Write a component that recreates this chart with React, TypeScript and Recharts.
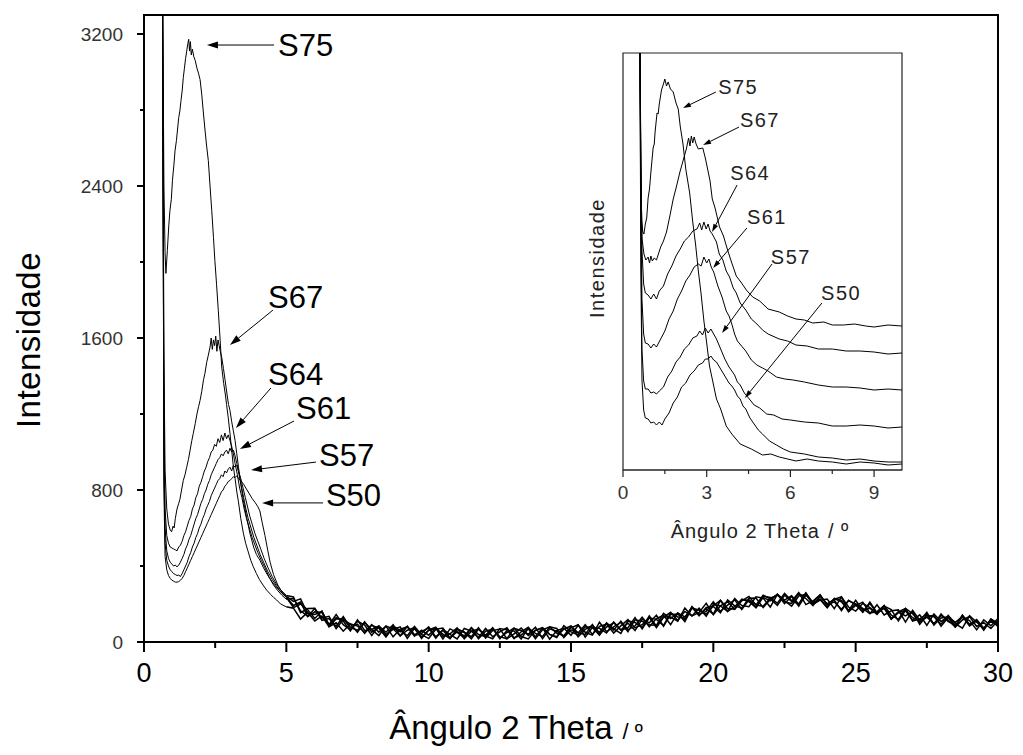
import React from 'react';
import { LineChart, Line, XAxis, YAxis, ReferenceLine, ReferenceDot, ReferenceArea } from 'recharts';

const FONT = '"Liberation Sans", Arial, Helvetica, sans-serif';

// ---------- MAIN CHART DATA (2θ in degrees, intensity) ----------
const S75_PEAK: number[][] = [
  [0.65, 3500], [0.7, 2400], [0.74, 2050], [0.77, 1940], [0.82, 2060], [0.87, 2190], [0.91, 2270], [0.96, 2330],
  [1.0, 2430], [1.05, 2510], [1.09, 2585], [1.14, 2640], [1.18, 2700], [1.22, 2760], [1.26, 2795], [1.3, 2850],
  [1.34, 2900], [1.38, 2970], [1.42, 3020], [1.46, 3070], [1.5, 3110], [1.54, 3150], [1.57, 3172], [1.6, 3110],
  [1.63, 3160], [1.66, 3090], [1.7, 3120], [1.75, 3080], [1.8, 3060], [1.86, 3020], [1.92, 2990], [1.97, 2960],
  [2.03, 2880], [2.08, 2795], [2.14, 2700], [2.2, 2610], [2.26, 2533], [2.32, 2400], [2.38, 2270], [2.44, 2130],
  [2.49, 2007], [2.55, 1880], [2.61, 1745], [2.67, 1600], [2.73, 1447], [2.8, 1360], [2.86, 1300], [2.9, 1250],
  [2.96, 1180], [3.02, 1098], [3.08, 1010], [3.14, 921], [3.2, 860], [3.26, 790], [3.31, 746], [3.4, 650],
  [3.49, 573], [3.57, 520], [3.65, 480], [3.75, 430], [3.84, 396], [3.95, 360], [4.05, 330], [4.18, 300],
  [4.31, 273], [4.45, 250], [4.55, 235], [4.66, 221], [4.8, 200], [5.0, 185],
];
const S67_PEAK: number[][] = [
  [0.65, 3500], [0.7, 1500], [0.74, 900], [0.8, 700], [0.86, 620], [0.92, 590], [0.97, 580], [1.02, 610],
  [1.06, 600], [1.1, 650], [1.16, 700], [1.22, 730], [1.26, 750], [1.32, 800], [1.38, 850], [1.44, 880],
  [1.5, 920], [1.56, 960], [1.62, 1010], [1.68, 1060], [1.73, 1097], [1.8, 1150], [1.86, 1200], [1.92, 1240],
  [1.97, 1272], [2.03, 1320], [2.09, 1380], [2.14, 1413], [2.2, 1470], [2.26, 1510], [2.32, 1552], [2.36, 1600],
  [2.4, 1540], [2.44, 1590], [2.48, 1560], [2.52, 1610], [2.56, 1530], [2.6, 1590], [2.64, 1560], [2.68, 1530],
  [2.73, 1499], [2.79, 1440], [2.85, 1377], [2.92, 1300], [2.97, 1250], [3.02, 1219], [3.08, 1160], [3.14, 1110],
  [3.2, 1061], [3.26, 990], [3.32, 920], [3.4, 830], [3.49, 746], [3.6, 660], [3.72, 573], [3.85, 500],
  [3.95, 460], [4.07, 431], [4.2, 390], [4.35, 350], [4.53, 310], [4.7, 280], [4.85, 255], [5.0, 235],
];
const S64_PEAK: number[][] = [
  [0.65, 3500], [0.7, 1200], [0.74, 700], [0.8, 560], [0.86, 520], [0.92, 500], [0.98, 495], [1.04, 490],
  [1.1, 485], [1.16, 480], [1.22, 500], [1.28, 510], [1.34, 530], [1.4, 560], [1.46, 580], [1.52, 610],
  [1.58, 640], [1.64, 660], [1.7, 700], [1.76, 720], [1.82, 760], [1.88, 780], [1.94, 820], [2.0, 840],
  [2.06, 870], [2.12, 900], [2.18, 920], [2.24, 950], [2.3, 970], [2.36, 1000], [2.42, 1010], [2.48, 1040],
  [2.54, 1030], [2.6, 1070], [2.66, 1050], [2.72, 1090], [2.78, 1060], [2.84, 1100], [2.9, 1070], [2.96, 1090],
  [3.02, 1060], [3.08, 1030], [3.14, 990], [3.2, 940], [3.28, 880], [3.36, 810], [3.44, 760], [3.52, 700],
  [3.6, 650], [3.7, 600], [3.8, 550], [3.9, 510], [4.0, 470], [4.12, 430], [4.25, 390], [4.4, 340],
  [4.55, 300], [4.7, 270], [4.85, 245], [5.0, 225],
];
const S61_PEAK: number[][] = [
  [0.65, 3500], [0.7, 1000], [0.74, 600], [0.8, 480], [0.86, 440], [0.92, 420], [0.98, 410], [1.04, 400],
  [1.1, 405], [1.16, 395], [1.22, 405], [1.28, 420], [1.34, 440], [1.4, 460], [1.46, 490], [1.52, 510],
  [1.58, 540], [1.64, 560], [1.7, 590], [1.76, 620], [1.82, 650], [1.88, 670], [1.94, 700], [2.0, 730],
  [2.06, 750], [2.12, 780], [2.18, 800], [2.24, 830], [2.3, 850], [2.36, 880], [2.42, 900], [2.48, 920],
  [2.54, 940], [2.6, 960], [2.66, 970], [2.72, 990], [2.78, 980], [2.84, 1000], [2.9, 1010], [2.96, 990],
  [3.02, 1020], [3.08, 1000], [3.14, 1010], [3.2, 980], [3.26, 940], [3.34, 880], [3.42, 820], [3.5, 760],
  [3.58, 700], [3.66, 650], [3.76, 600], [3.86, 550], [3.96, 510], [4.08, 460], [4.2, 420], [4.35, 370],
  [4.5, 330], [4.65, 295], [4.8, 265], [5.0, 235],
];
const S57_PEAK: number[][] = [
  [0.65, 3500], [0.7, 900], [0.74, 520], [0.8, 430], [0.86, 400], [0.92, 380], [0.98, 370], [1.04, 360],
  [1.1, 355], [1.16, 350], [1.22, 352], [1.28, 345], [1.34, 360], [1.4, 380], [1.46, 400], [1.52, 420],
  [1.58, 450], [1.64, 470], [1.7, 500], [1.76, 520], [1.82, 550], [1.88, 570], [1.94, 600], [2.0, 620],
  [2.06, 650], [2.12, 670], [2.18, 700], [2.24, 720], [2.3, 740], [2.36, 770], [2.42, 790], [2.48, 810],
  [2.54, 830], [2.6, 850], [2.66, 860], [2.72, 880], [2.78, 870], [2.84, 900], [2.9, 890], [2.96, 910],
  [3.02, 920], [3.08, 900], [3.14, 930], [3.2, 920], [3.26, 930], [3.32, 900], [3.4, 860], [3.48, 810],
  [3.56, 760], [3.64, 710], [3.72, 660], [3.8, 620], [3.9, 570], [4.0, 530], [4.1, 490], [4.22, 440],
  [4.36, 390], [4.5, 345], [4.65, 305], [4.8, 275], [5.0, 245],
];
const S50_PEAK: number[][] = [
  [0.65, 3500], [0.7, 800], [0.74, 450], [0.8, 380], [0.86, 350], [0.92, 335], [0.98, 325], [1.04, 320],
  [1.1, 315], [1.16, 315], [1.22, 318], [1.28, 325], [1.34, 335], [1.4, 350], [1.46, 370], [1.52, 390],
  [1.58, 410], [1.64, 430], [1.7, 450], [1.76, 470], [1.82, 490], [1.88, 510], [1.94, 530], [2.0, 550],
  [2.06, 570], [2.12, 590], [2.18, 610], [2.24, 630], [2.3, 650], [2.36, 670], [2.42, 690], [2.48, 710],
  [2.54, 730], [2.6, 750], [2.66, 770], [2.72, 790], [2.78, 800], [2.84, 820], [2.9, 830], [2.96, 845],
  [3.02, 850], [3.08, 860], [3.14, 870], [3.2, 865], [3.26, 875], [3.32, 860], [3.4, 850], [3.5, 830],
  [3.6, 805], [3.7, 780], [3.8, 755], [3.9, 735], [4.0, 712], [4.07, 690], [4.15, 630], [4.25, 560],
  [4.35, 480], [4.43, 420], [4.55, 355], [4.7, 300], [4.85, 262], [5.0, 240],
];

// background region (2θ = 5.25 ... 30, step 0.25)
const BG_X: number[] = [
  5.25, 5.5, 5.75, 6, 6.25, 6.5, 6.75, 7, 7.25, 7.5,
  7.75, 8, 8.25, 8.5, 8.75, 9, 9.25, 9.5, 9.75, 10,
  10.25, 10.5, 10.75, 11, 11.25, 11.5, 11.75, 12, 12.25, 12.5,
  12.75, 13, 13.25, 13.5, 13.75, 14, 14.25, 14.5, 14.75, 15,
  15.25, 15.5, 15.75, 16, 16.25, 16.5, 16.75, 17, 17.25, 17.5,
  17.75, 18, 18.25, 18.5, 18.75, 19, 19.25, 19.5, 19.75, 20,
  20.25, 20.5, 20.75, 21, 21.25, 21.5, 21.75, 22, 22.25, 22.5,
  22.75, 23, 23.25, 23.5, 23.75, 24, 24.25, 24.5, 24.75, 25,
  25.25, 25.5, 25.75, 26, 26.25, 26.5, 26.75, 27, 27.25, 27.5,
  27.75, 28, 28.25, 28.5, 28.75, 29, 29.25, 29.5, 29.75, 30,
];
const S75_BG: number[] = [
  178, 121, 157, 111, 137, 80, 101, 57, 96, 84,
  50, 92, 52, 84, 27, 68, 80, 35, 44, 79,
  27, 62, 18, 65, 53, 17, 68, 35, 75, 21,
  50, 74, 29, 16, 63, 75, 40, 24, 86, 53,
  37, 80, 76, 36, 97, 62, 110, 64, 85, 130,
  80, 123, 141, 91, 153, 132, 180, 142, 175, 147,
  219, 176, 172, 225, 219, 181, 235, 216, 251, 202,
  239, 188, 247, 209, 248, 194, 211, 172, 217, 199,
  156, 210, 153, 178, 121, 154, 166, 113, 143, 88,
  148, 108, 133, 79, 116, 134, 82, 102, 71, 113,
];
const S67_BG: number[] = [
  192, 210, 133, 159, 155, 91, 144, 91, 65, 109,
  89, 34, 84, 51, 91, 32, 62, 75, 19, 64,
  78, 30, 43, 74, 17, 57, 68, 32, 17, 71,
  64, 18, 54, 77, 27, 75, 40, 28, 69, 84,
  27, 66, 87, 50, 101, 69, 45, 111, 103, 76,
  137, 83, 133, 131, 110, 179, 137, 178, 136, 198,
  190, 161, 229, 192, 186, 238, 231, 184, 251, 220,
  243, 199, 258, 202, 223, 180, 229, 212, 166, 220,
  167, 178, 145, 189, 171, 111, 166, 128, 111, 156,
  90, 126, 133, 83, 141, 91, 114, 66, 121, 91,
];
const S64_BG: number[] = [
  229, 164, 135, 176, 126, 135, 70, 118, 94, 51,
  106, 52, 77, 30, 84, 61, 33, 82, 40, 18,
  67, 73, 22, 54, 32, 75, 17, 57, 68, 28,
  17, 72, 61, 41, 78, 18, 69, 57, 30, 84,
  48, 40, 92, 39, 79, 101, 63, 100, 60, 120,
  101, 141, 83, 145, 146, 118, 183, 146, 161, 212,
  161, 194, 222, 171, 222, 195, 246, 227, 193, 246,
  214, 260, 197, 216, 248, 194, 221, 165, 220, 195,
  159, 203, 153, 178, 121, 158, 177, 110, 122, 146,
  90, 147, 107, 90, 130, 113, 64, 116, 85, 124,
];
const S61_BG: number[] = [
  181, 200, 169, 124, 163, 82, 121, 122, 76, 62,
  104, 66, 34, 84, 70, 32, 82, 39, 55, 75,
  20, 66, 40, 16, 71, 57, 24, 71, 28, 53,
  75, 22, 36, 70, 17, 64, 80, 46, 33, 75,
  91, 26, 76, 72, 47, 105, 63, 75, 128, 69,
  127, 119, 87, 152, 131, 125, 187, 138, 182, 187,
  154, 222, 190, 178, 230, 231, 181, 224, 251, 210,
  203, 256, 229, 191, 241, 201, 225, 237, 163, 202,
  177, 149, 196, 142, 164, 169, 105, 167, 115, 131,
  97, 140, 115, 79, 141, 91, 118, 73, 110, 88,
];
const S57_BG: number[] = [
  237, 154, 176, 177, 114, 123, 83, 134, 76, 94,
  46, 88, 73, 26, 77, 53, 82, 31, 62, 36,
  72, 16, 69, 51, 21, 75, 39, 28, 71, 17,
  60, 58, 16, 73, 45, 28, 80, 71, 23, 64,
  48, 91, 40, 82, 94, 47, 85, 118, 74, 91,
  130, 76, 130, 156, 113, 161, 137, 156, 204, 144,
  190, 212, 172, 217, 240, 195, 188, 231, 247, 217,
  189, 242, 251, 198, 220, 226, 175, 237, 184, 163,
  203, 181, 149, 192, 124, 158, 137, 160, 93, 142,
  133, 93, 140, 97, 73, 138, 104, 73, 118, 81,
];
const S50_BG: number[] = [
  214, 227, 150, 145, 161, 90, 128, 110, 58, 116,
  61, 66, 84, 40, 66, 80, 19, 71, 26, 61,
  71, 41, 18, 70, 50, 28, 75, 21, 60, 68,
  17, 43, 74, 34, 60, 75, 15, 60, 73, 35,
  88, 51, 36, 104, 54, 80, 103, 54, 117, 109,
  91, 87, 151, 123, 153, 107, 180, 167, 146, 190,
  219, 161, 186, 225, 212, 181, 242, 234, 204, 256,
  218, 199, 258, 206, 227, 183, 229, 219, 159, 192,
  210, 152, 160, 192, 142, 118, 177, 149, 104, 131,
  141, 83, 129, 104, 134, 84, 111, 62, 121, 99,
];

const MAIN_X_TICKS = [0, 2.5, 5, 7.5, 10, 12.5, 15, 17.5, 20, 22.5, 25, 27.5, 30];
const MAIN_Y_TICKS = [0, 400, 800, 1200, 1600, 2000, 2400, 2800, 3200];

// label anchors and arrows (data coordinates)
const MAIN_LABELS = ['S75', 'S67', 'S64', 'S61', 'S57', 'S50'];
const MAIN_LABEL_POS: number[][] = [[4.71, 3142], [4.36, 1816], [4.36, 1411], [5.34, 1232], [6.15, 984], [6.39, 774]];
const MAIN_ARROWS: number[][] = [
  [4.57, 3142, 2.21, 3142], [4.53, 1747, 3.02, 1563], [4.46, 1337, 3.23, 1126],
  [5.27, 1163, 3.37, 1016], [6.04, 947, 3.76, 905], [6.29, 732, 4.15, 732],
];

// ---------- INSET DATA (2θ, offset intensity in arbitrary units) ----------
const IN_S75: number[][] = [
  [0.6, 450], [0.64, 300], [0.67, 250], [0.71, 238], [0.75, 236], [0.8, 246], [0.85, 252], [0.9, 272], [0.95, 281], [1.0, 298],
  [1.08, 322], [1.12, 326], [1.15, 338], [1.22, 357], [1.26, 356], [1.3, 366], [1.38, 380], [1.45, 386], [1.5, 391], [1.56, 384],
  [1.62, 388], [1.7, 381], [1.8, 378], [1.9, 367], [1.98, 361], [2.05, 344], [2.15, 326], [2.25, 301],
  [2.39, 277], [2.5, 248], [2.6, 226], [2.7, 199], [2.8, 176], [2.9, 149], [3.0, 127], [3.1, 104],
  [3.2, 91], [3.35, 71], [3.5, 61], [3.7, 44], [3.9, 36], [4.2, 26], [4.6, 21], [5.0, 15], [5.3, 16], [5.6, 13],
  [6.2, 9], [6.6, 11], [7.0, 9], [7.5, 8], [8.0, 6], [8.5, 8], [9.0, 7], [9.5, 5], [10, 6],
];
const IN_S67: number[][] = [
  [0.6, 450], [0.64, 300], [0.68, 232], [0.75, 216], [0.82, 210], [0.9, 213], [0.95, 207], [1.0, 214],
  [1.05, 209], [1.12, 212], [1.2, 210], [1.35, 223], [1.45, 229], [1.56, 238], [1.68, 254], [1.8, 271],
  [1.92, 284], [2.04, 298], [2.15, 309], [2.27, 321], [2.35, 332], [2.4, 324], [2.45, 334], [2.5, 327],
  [2.55, 333], [2.62, 326], [2.7, 321], [2.86, 322], [2.95, 312], [3.04, 300], [3.12, 289], [3.2, 271], [3.3, 262], [3.46, 243], [3.6, 234], [3.76, 219],
  [3.9, 207], [4.06, 194], [4.25, 187], [4.42, 180], [4.65, 173], [4.9, 169], [5.2, 161], [5.6, 158], [5.9, 154], [6.2, 151], [6.5, 150], [6.8, 147], [7.2, 148], [7.5, 145], [7.9, 145], [8.3, 146],
  [8.7, 144], [9.0, 143], [9.5, 145], [10, 144],
];
const IN_S64: number[][] = [
  [0.6, 450], [0.64, 320], [0.68, 220], [0.74, 186], [0.8, 177], [0.9, 175], [1.0, 171], [1.1, 176],
  [1.2, 171], [1.3, 179], [1.45, 184], [1.6, 196], [1.75, 204], [1.9, 214], [2.05, 221], [2.2, 229],
  [2.35, 233], [2.5, 239], [2.65, 241], [2.75, 247], [2.82, 240], [2.9, 248], [2.98, 241], [3.05, 246],
  [3.12, 239], [3.2, 236], [3.35, 228], [3.45, 216], [3.58, 210], [3.7, 199], [3.82, 193], [3.95, 182], [4.06, 177], [4.2, 167], [4.4, 160], [4.6, 151], [4.8, 146],
  [5.0, 140], [5.2, 136], [5.6, 131], [5.9, 129], [6.2, 125], [6.6, 124], [7.0, 121], [7.5, 121], [8.0, 119], [8.5, 119], [9.0, 118], [9.5, 116], [10, 117],
];
const IN_S61: number[][] = [
  [0.6, 450], [0.64, 280], [0.68, 170], [0.74, 136], [0.8, 127], [0.9, 126], [1.0, 122], [1.1, 126],
  [1.2, 123], [1.35, 131], [1.5, 139], [1.65, 151], [1.8, 159], [1.95, 171], [2.1, 179], [2.25, 189],
  [2.4, 195], [2.55, 203], [2.7, 206], [2.8, 204], [2.9, 213], [3.0, 207], [3.08, 211], [3.16, 203],
  [3.25, 198], [3.4, 184], [3.55, 173], [3.7, 159], [3.8, 154], [3.9, 146], [4.0, 136], [4.1, 129], [4.25, 124], [4.4, 119], [4.6, 110], [4.8, 105],
  [5.0, 102], [5.2, 99], [5.5, 93], [5.8, 91], [6.1, 90], [6.5, 88], [7.0, 85], [7.5, 83], [8.0, 83], [8.5, 82], [9.0, 80], [9.5, 81], [10, 80],
];
const IN_S57: number[][] = [
  [0.6, 450], [0.64, 240], [0.68, 120], [0.74, 89], [0.8, 81], [0.9, 81], [1.0, 77], [1.1, 78],
  [1.2, 76], [1.3, 79], [1.45, 83], [1.6, 93], [1.75, 99], [1.9, 108], [2.05, 113], [2.2, 121],
  [2.35, 125], [2.5, 132], [2.65, 134], [2.75, 139], [2.85, 135], [2.95, 142], [3.05, 137], [3.15, 141],
  [3.25, 136], [3.35, 131], [3.5, 121], [3.65, 111], [3.8, 103], [3.9, 99], [4.0, 95], [4.1, 88], [4.2, 85], [4.35, 77], [4.5, 72], [4.7, 65],
  [4.9, 62], [5.15, 56], [5.4, 55], [5.7, 51], [6.0, 50], [6.5, 48], [7.0, 47], [7.5, 44], [8.0, 44], [8.5, 45], [9.0, 44], [9.5, 42], [10, 43],
];
const IN_S50: number[][] = [
  [0.6, 450], [0.64, 200], [0.68, 90], [0.74, 60], [0.8, 52], [0.9, 51], [1.0, 47], [1.1, 48],
  [1.2, 45], [1.3, 48], [1.4, 45], [1.5, 51], [1.65, 57], [1.8, 67], [1.95, 73], [2.1, 83],
  [2.25, 87], [2.4, 95], [2.55, 99], [2.7, 105], [2.85, 107], [2.95, 111], [3.05, 111], [3.15, 114],
  [3.25, 110], [3.35, 108], [3.5, 101], [3.65, 94], [3.8, 87], [3.9, 84], [4.0, 80], [4.1, 74], [4.2, 71], [4.3, 64], [4.4, 61], [4.55, 52],
  [4.7, 46], [4.85, 40], [5.0, 36], [5.25, 29], [5.5, 25], [5.75, 21], [6.0, 18], [6.5, 16], [7.0, 13], [7.5, 12], [8.0, 10], [8.5, 11], [9.0, 9], [9.5, 8], [10, 8],
];

const INSET_X_TICKS = [0, 1.5, 3, 4.5, 6, 7.5, 9];
const INSET_LABEL_POS: number[][] = [[3.41, 383], [4.19, 350], [3.84, 297], [4.44, 253], [5.3, 213], [7.1, 177]];
const INSET_ARROWS: number[][] = [
  [3.33, 378, 2.15, 362], [4.16, 343, 2.87, 325], [4.09, 285, 3.19, 238],
  [4.44, 242, 3.23, 202], [5.34, 206, 3.55, 137], [7.13, 167, 4.37, 72],
];

// ---------- build tables ----------
const pairs = (arr: number[][]) => arr.map(([x, y]) => ({ x, y }));
// each main series is drawn in two pieces: the low-angle peak part and the (noisy) wide-angle part
const bgPart = (peak: number[][], bg: number[]) =>
  [{ x: peak[peak.length - 1][0], y: peak[peak.length - 1][1] }].concat(BG_X.map((x, i) => ({ x, y: bg[i] })));

const MAIN_PEAKS = [S75_PEAK, S67_PEAK, S64_PEAK, S61_PEAK, S57_PEAK, S50_PEAK].map(pairs);
const MAIN_BGS = [
  bgPart(S75_PEAK, S75_BG), bgPart(S67_PEAK, S67_BG), bgPart(S64_PEAK, S64_BG),
  bgPart(S61_PEAK, S61_BG), bgPart(S57_PEAK, S57_BG), bgPart(S50_PEAK, S50_BG),
];
const INSET_SERIES = [IN_S75, IN_S67, IN_S64, IN_S61, IN_S57, IN_S50].map(pairs);

// ---------- shapes ----------
const makeArrow = (len: number, half: number) => (p: any) => {
  const { x1, y1, x2, y2 } = p;
  const ang = Math.atan2(y2 - y1, x2 - x1);
  const bx = x2 - len * Math.cos(ang);
  const by = y2 - len * Math.sin(ang);
  const px = -Math.sin(ang) * half;
  const py = Math.cos(ang) * half;
  return (
    <g>
      <line x1={x1} y1={y1} x2={bx} y2={by} stroke="#000" strokeWidth={1} />
      <polygon points={`${x2},${y2} ${bx + px},${by + py} ${bx - px},${by - py}`} fill="#000" />
    </g>
  );
};
const MainArrow = makeArrow(11, 3.5);
const InsetArrow = makeArrow(8, 2.5);

const makeText = (txt: string, size: number, color: string, spacing = 0) => (p: any) => (
  <text x={p.cx} y={p.cy} dy="0.36em" textAnchor="start" fontFamily={FONT} fontSize={size} fill={color}
    letterSpacing={spacing}>
    {txt}
  </text>
);

const MainXTick = (p: any) => {
  const { x, y, payload } = p;
  const v = payload.value;
  const major = v % 5 === 0;
  return (
    <g>
      <line x1={x} x2={x} y1={y} y2={y + (major ? 10 : 6)} stroke="#000" strokeWidth={2} />
      {major && (
        <text x={x} y={y + 40} textAnchor="middle" fontFamily={FONT} fontSize={27} fill="#000">
          {v}
        </text>
      )}
    </g>
  );
};
const MainYTick = (p: any) => {
  const { x, y, payload } = p;
  const v = payload.value;
  const major = v % 800 === 0;
  return (
    <g>
      <line x1={x - (major ? 7 : 4)} x2={x} y1={y} y2={y} stroke="#000" strokeWidth={2} />
      {major && (
        <text x={x - 21} y={y} dy="0.36em" textAnchor="end" fontFamily={FONT} fontSize={19} fill="#333">
          {v}
        </text>
      )}
    </g>
  );
};
const InsetXTick = (p: any) => {
  const { x, y, payload } = p;
  const v = payload.value;
  const major = v % 3 === 0;
  return (
    <g>
      <line x1={x} x2={x} y1={y} y2={y + (major ? 7 : 4)} stroke="#222" strokeWidth={1.2} />
      {major && (
        <text x={x} y={y + 29} textAnchor="middle" fontFamily={FONT} fontSize={19} fill="#333">
          {v}
        </text>
      )}
    </g>
  );
};

const abs = (left: number, top: number, extra: React.CSSProperties = {}): React.CSSProperties => ({
  position: 'absolute', left, top, whiteSpace: 'nowrap', fontFamily: FONT, lineHeight: 1,
  transform: 'translate(-50%, -50%)', ...extra,
});

export default function App() {
  return (
    <div style={{ position: 'absolute', left: 0, top: 0, width: 1023, height: 755, background: '#fff', overflow: 'hidden' }}>
      <div style={{ position: 'absolute', left: 0, top: 0 }}>
        <LineChart width={1023} height={755} margin={{ top: 15, right: 25, bottom: 112, left: 143 }}>
          <XAxis type="number" dataKey="x" domain={[0, 30]} ticks={MAIN_X_TICKS} interval={0} allowDataOverflow
            height={1} tickSize={0} tickMargin={0} tickLine={false}
            axisLine={{ stroke: '#000', strokeWidth: 2 }} tick={(p: any) => <MainXTick {...p} />} />
          <YAxis type="number" domain={[0, 3300]} ticks={MAIN_Y_TICKS} interval={0} allowDataOverflow
            width={1} tickSize={0} tickMargin={0} tickLine={false}
            axisLine={{ stroke: '#000', strokeWidth: 2 }} tick={(p: any) => <MainYTick {...p} />} />
          <ReferenceArea x1={0} x2={30} y1={0} y2={3300} fill="none" stroke="#000" strokeWidth={2} ifOverflow="visible" />
          {MAIN_PEAKS.map((d, i) => (
            <Line key={'p' + i} data={d} dataKey="y" type="linear" stroke="#000" strokeWidth={1} dot={false}
              isAnimationActive={false} />
          ))}
          {MAIN_BGS.map((d, i) => (
            <Line key={'b' + i} data={d} dataKey="y" type="linear" stroke="#000" strokeWidth={1.5} dot={false}
              isAnimationActive={false} />
          ))}
          {MAIN_ARROWS.map((a, i) => (
            <ReferenceLine key={'a' + i} segment={[{ x: a[0], y: a[1] }, { x: a[2], y: a[3] }]} ifOverflow="visible"
              shape={MainArrow} />
          ))}
          {MAIN_LABELS.map((t, i) => (
            <ReferenceDot key={'l' + i} x={MAIN_LABEL_POS[i][0]} y={MAIN_LABEL_POS[i][1]} r={0} ifOverflow="visible"
              shape={makeText(t, 31, '#000')} />
          ))}
        </LineChart>
      </div>

      <div style={{ position: 'absolute', left: 560, top: 40 }}>
        <LineChart width={360} height={520} margin={{ top: 13, right: 18, bottom: 89, left: 63 }}>
          <XAxis type="number" dataKey="x" domain={[0, 10]} ticks={INSET_X_TICKS} interval={0} allowDataOverflow
            height={1} tickSize={0} tickMargin={0} tickLine={false}
            axisLine={{ stroke: '#222', strokeWidth: 1.2 }} tick={(p: any) => <InsetXTick {...p} />} />
          <YAxis type="number" domain={[0, 417]} allowDataOverflow hide />
          <ReferenceArea x1={0} x2={10} y1={0} y2={417} fill="none" stroke="#222" strokeWidth={1.2} ifOverflow="visible" />
          {INSET_SERIES.map((d, i) => (
            <Line key={i} data={d} dataKey="y" type="linear" stroke="#000" strokeWidth={1} dot={false}
              isAnimationActive={false} />
          ))}
          {INSET_ARROWS.map((a, i) => (
            <ReferenceLine key={'a' + i} segment={[{ x: a[0], y: a[1] }, { x: a[2], y: a[3] }]} ifOverflow="visible"
              shape={InsetArrow} />
          ))}
          {MAIN_LABELS.map((t, i) => (
            <ReferenceDot key={'l' + i} x={INSET_LABEL_POS[i][0]} y={INSET_LABEL_POS[i][1]} r={0} ifOverflow="visible"
              shape={makeText(t, 20, '#222', 1.5)} />
          ))}
        </LineChart>
      </div>

      <div style={abs(28, 340, { fontSize: 33, letterSpacing: 0.5, transform: 'translate(-50%, -50%) rotate(-90deg)' })}>Intensidade</div>
      <div style={abs(516, 727, { fontSize: 33 })}>
        Ângulo 2 Theta<span style={{ fontSize: 22, marginLeft: 10 }}>/ º</span>
      </div>
      <div style={abs(597, 258, { fontSize: 20, letterSpacing: 1.5, color: '#222', transform: 'translate(-50%, -50%) rotate(-90deg)' })}>Intensidade</div>
      <div style={abs(760, 531, { fontSize: 20, letterSpacing: 1, color: '#222' })}>
        Ângulo 2 Theta<span style={{ marginLeft: 8 }}>/ º</span>
      </div>
    </div>
  );
}
